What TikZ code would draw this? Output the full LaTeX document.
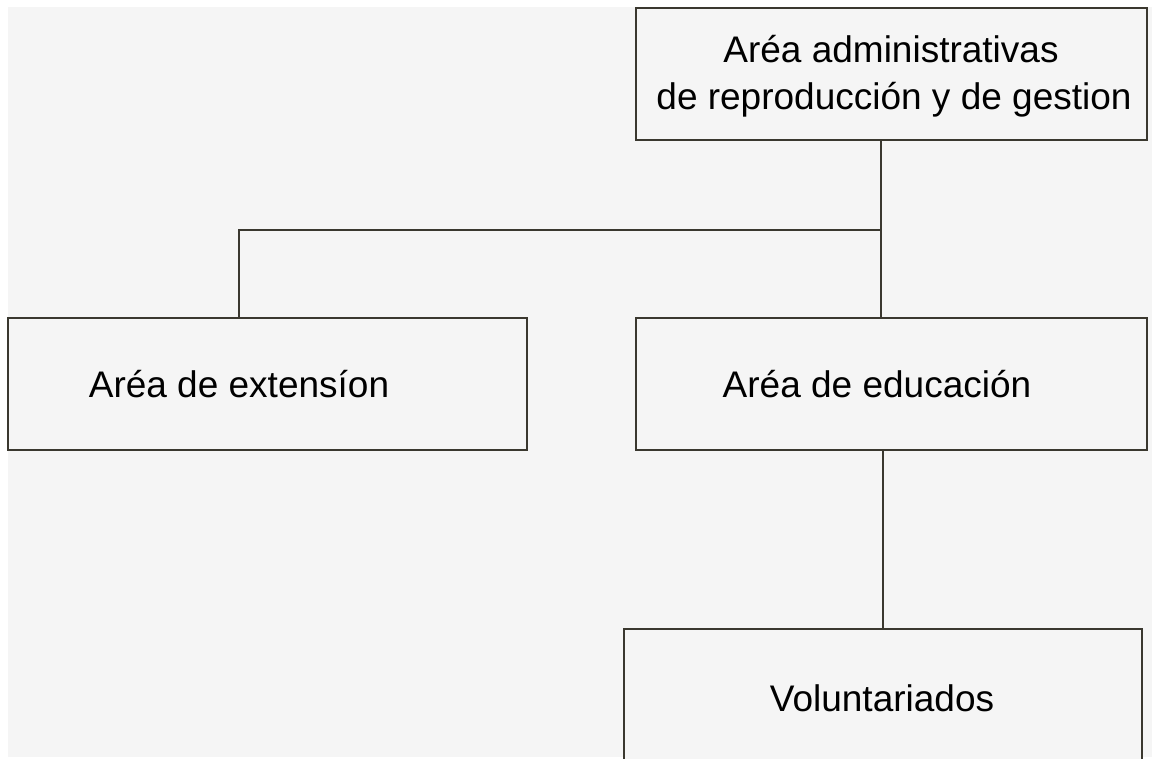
\documentclass[tikz,border=0pt]{standalone}
\usepackage{fontspec}
\setmainfont{Liberation Sans}
\definecolor{bg}{HTML}{F5F5F5}
\definecolor{ln}{HTML}{3A382F}
\begin{document}
\begin{tikzpicture}[x=1pt,y=-1pt,
  box/.style={draw=ln, line width=1.6pt, fill=bg, inner sep=0pt, outer sep=0pt, anchor=north west},
  lbl/.style={font=\fontsize{37}{40}\selectfont, text=black, anchor=base, inner sep=0pt},
  link/.style={draw=ln, line width=1.4pt}]
\useasboundingbox (0,0) rectangle (1154,758);
\clip (0,0) rectangle (1154,758);
\fill[white] (0,0) rectangle (1154,758);
\fill[bg] (8,7) rectangle (1152,757);

\node[box, minimum width=511, minimum height=132] (top) at (636,8) {};
\node[box, minimum width=519, minimum height=132] (ext) at (8,318) {};
\node[box, minimum width=511, minimum height=132] (edu) at (636,318) {};
\node[box, minimum width=518, minimum height=170] (vol) at (624,629) {};

\node[lbl] (t1) at (891,62) {Aréa administrativas};
\node[lbl] (t2) at (894,109) {de reproducción y de gestion};
\node[lbl] (t3) at (239,397) {Aréa de extensíon};
\node[lbl] (t4) at (877,397) {Aréa de educación};
\node[lbl] (t5) at (882,711) {Voluntariados};

\coordinate (j) at (881,230);
\coordinate (k) at (239,230);
\coordinate (m) at (883,0);
\draw[link] (j |- top.south) -- (j |- edu.north);
\draw[link] (j) -- (k) -- (k |- ext.north);
\draw[link] (m |- edu.south) -- (m |- vol.north);
\end{tikzpicture}
\end{document}
